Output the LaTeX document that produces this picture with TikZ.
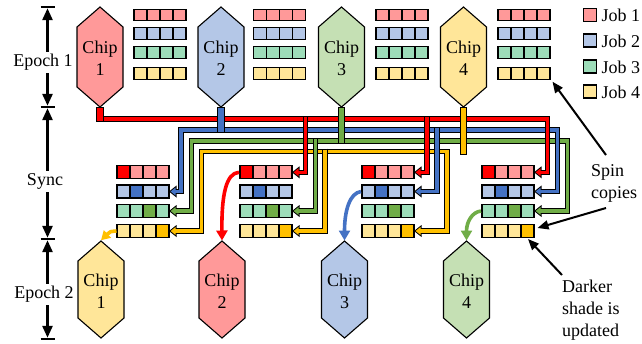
\documentclass[tikz,border=0pt]{standalone}
\usepackage{fontspec}
\setmainfont{Liberation Serif}
\usetikzlibrary{arrows.meta,calc}
\definecolor{lred}{HTML}{FF9999}
\definecolor{dred}{HTML}{FF0000}
\definecolor{lblue}{HTML}{B4C7E7}
\definecolor{dblue}{HTML}{4472C4}
\definecolor{lgreen}{HTML}{9DDDB9}
\definecolor{cgreen}{HTML}{C5E0B4}
\definecolor{dgreen}{HTML}{70AD47}
\definecolor{lyellow}{HTML}{FFE699}
\definecolor{dyellow}{HTML}{FFC000}
\tikzset{
  cellline/.style={line width=1.1pt, draw=black},
  rowbox/.style={inner sep=0pt, outer sep=0pt, minimum width=52pt, anchor=north west},
  chiptext/.style={font=\fontsize{18}{22}\selectfont, align=center, inner sep=0pt},
  lbl/.style={font=\fontsize{18}{22}\selectfont, inner sep=0pt},
  pipeout/.style={line width=5.6pt, draw=black, line join=miter},
  pipein/.style={line width=3.6pt, draw=#1, line join=miter},
  chipshape/.style={draw=black, line width=1.1pt, line join=miter},
  stubbox/.style={draw=black, line width=1pt},
  dimline/.style={line width=2.6pt, draw=black, {Triangle[width=10pt,length=12pt]}-{Triangle[width=10pt,length=12pt]}},
  dimbar/.style={line width=2.6pt, draw=black},
  note/.style={line width=2pt, draw=black, -{Triangle[width=9pt,length=11pt]}},
  feed/.style={line width=3.6pt, -{Triangle[width=11pt,length=10pt]}},
}
% chip: name, cx, ytop, height, fill, number
\newcommand\chip[6]{%
  \draw[chipshape, fill=#5] (#2,#3) -- (#2+23,#3+20) -- (#2+23,#3+#4-20) -- (#2,#3+#4) -- (#2-23,#3+#4-20) -- (#2-23,#3+20) -- cycle;
  \coordinate (#1t) at (#2,#3);
  \coordinate (#1b) at (#2,#3+#4);
  \node[chiptext] (#1) at (#2,#3+#4/2+1.5) {Chip\\#6};
}
% row of four cells: name, x, ytop, height, light, dark, dark index
\newcommand\cellrow[7]{%
  \node[rowbox, fill=#5, minimum height=#4pt] (#1) at (#2,#3) {};
  \ifnum#7>0 \fill[#6] (#2+#7*13-13,#3) rectangle ++(13,#4);\fi
  \draw[cellline] (#2,#3) rectangle ++(52,#4);
  \foreach \i in {1,2,3}{\draw[cellline] (#2+\i*13,#3) -- ++(0,#4);}
}
\newcommand\etable[2]{%
  \cellrow{#11}{#2}{9.3}{11.5}{lred}{dred}{0}
  \cellrow{#12}{#2}{27.7}{11.5}{lblue}{dblue}{0}
  \cellrow{#13}{#2}{46.7}{11.5}{lgreen}{dgreen}{0}
  \cellrow{#14}{#2}{67.7}{11.5}{lyellow}{dyellow}{0}
}
\newcommand\stable[2]{%
  \cellrow{#11}{#2}{165.8}{13}{lred}{dred}{1}
  \cellrow{#12}{#2}{185}{13}{lblue}{dblue}{2}
  \cellrow{#13}{#2}{204.5}{13}{lgreen}{dgreen}{3}
  \cellrow{#14}{#2}{224.5}{13}{lyellow}{dyellow}{4}
}
% pipe: [inner opts], colour, path, list of arrow-tip anchors (pointing left)
\newcommand\pipe[4][]{%
  \draw[pipeout] #3;
  \foreach \h in {#4}{\fill[black] (\h) -- ($(\h)+(7.5,-6)$) -- ($(\h)+(7.5,6)$) -- cycle;}
  \draw[pipein=#2,#1] #3;
  \foreach \h in {#4}{\fill[#2] ($(\h)+(1.6,0)$) -- ($(\h)+(6.6,-4)$) -- ($(\h)+(6.6,4)$) -- cycle;}
}
\begin{document}
\begin{tikzpicture}[x=1pt,y=-1pt]
\useasboundingbox (0,0) rectangle (642,343);
% ---- chips ----
\chip{c1}{100}{7}{100}{lred}{1}
\chip{c2}{221}{7}{100}{lblue}{2}
\chip{c3}{341.5}{7}{100}{cgreen}{3}
\chip{c4}{463.5}{7}{100}{lyellow}{4}
\chip{d1}{101}{241}{97}{lyellow}{1}
\chip{d2}{222}{241}{97}{lred}{2}
\chip{d3}{344.5}{241}{97}{lblue}{3}
\chip{d4}{466.5}{241}{97}{cgreen}{4}
% ---- job tables ----
\etable{eA}{134}
\etable{eB}{253.5}
\etable{eC}{376}
\etable{eD}{498}
\stable{sA}{117}
\stable{sB}{240}
\stable{sC}{362}
\stable{sD}{482}
% ---- sync buses ----
\pipe{dyellow}{($(sA4.east)+(6,0)$) -- (201.5,231) -- (201.5,151.5) -- (447,151.5) -- (447,231) -- ($(sC4.east)+(6,0)$)}{sA4.east,sC4.east}
\pipe{dgreen}{($(sA3.east)+(6,0)$) -- (191.5,211) -- (191.5,141) -- (567.5,141) -- (567.5,211) -- ($(sD3.east)+(6,0)$)}{sA3.east,sD3.east}
\pipe{dblue}{($(sA2.east)+(6,0)$) -- (181,191.5) -- (181,130) -- (557.5,130) -- (557.5,191.5) -- ($(sD2.east)+(6,0)$)}{sA2.east,sD2.east}
\pipe{dred}{(100,118.8) -- (547.5,118.8) -- (547.5,172.3) -- ($(sD1.east)+(6,0)$)}{sD1.east}
\pipe[shorten <=1pt]{dred}{(305.5,116) -- (305.5,172.3) -- ($(sB1.east)+(6,0)$)}{sB1.east}
\pipe[shorten <=1pt]{dred}{(427,116) -- (427,172.3) -- ($(sC1.east)+(6,0)$)}{sC1.east}
\pipe[shorten <=1pt]{dblue}{(437,127.2) -- (437,191.5) -- ($(sC2.east)+(6,0)$)}{sC2.east}
\pipe[shorten <=1pt]{dgreen}{(315.5,138.2) -- (315.5,211) -- ($(sB3.east)+(6,0)$)}{sB3.east}
\pipe[shorten <=1pt]{dyellow}{(325,148.7) -- (325,231) -- ($(sB4.east)+(6,0)$)}{sB4.east}
% stubs under the chips
\draw[stubbox, fill=dred] ($(c1b)+(-3.3,0)$) rectangle ++(6.6,14.6);
\draw[stubbox, fill=dblue] ($(c2b)+(-3.3,0)$) rectangle ++(6.6,25.8);
\draw[stubbox, fill=dgreen] ($(c3b)+(-3.3,0)$) rectangle ++(6.6,36.8);
\draw[stubbox, fill=dyellow] ($(c4b)+(-3.3,0)$) rectangle ++(6.6,47.3);
% ---- feeds to epoch 2 chips ----
\draw[feed, dyellow, -{Triangle[width=10pt,length=9pt]}] ($(sA4.west)+(-0.5,0)$) .. controls (110,231.5) .. ($(d1t)+(0,-0.8)$);
\draw[feed, dred] ($(sB1.west)+(-1,0)$) .. controls (226,173) and (221.5,195) .. ($(d2t)+(0,-0.5)$);
\draw[feed, dblue] ($(sC2.west)+(-1,0)$) .. controls (350,193) and (344.5,210) .. ($(d3t)+(0,-0.5)$);
\draw[feed, dgreen] ($(sD3.west)+(-1,0)$) .. controls (472,212) and (466.5,222) .. ($(d4t)+(0,-0.5)$);
% ---- epoch dimensions ----
\foreach \yy in {7,107,239,339}{\draw[dimbar] (40.5,\yy) -- (54.5,\yy);}
\draw[dimline] (47.5,8.2) -- (47.5,105.8);
\draw[dimline] (47.5,108.2) -- (47.5,237.8);
\draw[dimline] (47.5,240.2) -- (47.5,337.8);
\node[lbl, fill=white, inner sep=2.5pt] (ep1) at (43,62.5) {Epoch 1};
\node[lbl, fill=white, inner sep=2.5pt] (sync) at (45,181.5) {Sync};
\node[lbl, fill=white, inner sep=2.5pt] (ep2) at (44,294.5) {Epoch 2};
% ---- legend ----
\foreach \yy/\cc/\nn in {15/lred/1, 40.5/lblue/2, 66.5/lgreen/3, 91.5/lyellow/4}{
  \draw[cellline, fill=\cc] (583.5,\yy-6.5) rectangle ++(13,13);
  \node[lbl, anchor=west] (job\nn) at (601.5,\yy+0.5) {Job \nn};
}
% ---- annotations ----
\node[lbl, align=left, anchor=north west] (spin) at (591,164.7) {Spin\\copies};
\node[lbl, align=left, anchor=north west] (dark) at (562,280.2) {Darker\\shade is\\updated};
\coordinate (spinA) at (606,155);
\coordinate (spinB) at (606,208);
\coordinate (darkA) at (562,275);
\draw[note] (spinA) -- ($(eD4.south east)+(2.5,2.5)$);
\draw[note] (spinB) -- ($(sD4.east)+(3.5,-3)$);
\draw[note] (darkA) -- ($(sD4.south east)+(-6,1.5)$);
\end{tikzpicture}
\end{document}
